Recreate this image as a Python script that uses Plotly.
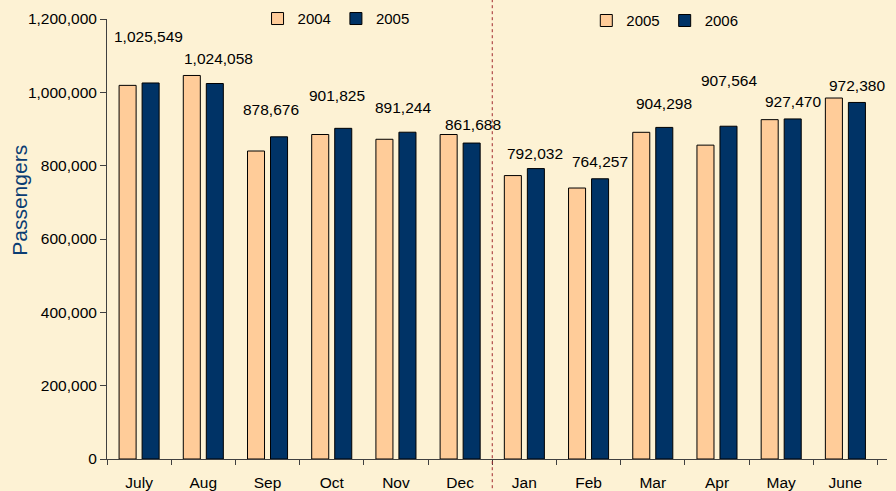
import plotly.graph_objects as go

months = ["July", "Aug", "Sep", "Oct", "Nov", "Dec", "Jan", "Feb", "Mar", "Apr", "May", "June"]
left_months = months[:6]
right_months = months[6:]

# First half (July-Dec): 2004 vs 2005
left_prev = [1019000, 1046000, 840000, 885000, 872000, 885000]
left_curr = [1025549, 1024058, 878676, 901825, 891244, 861688]
# Second half (Jan-June): 2005 vs 2006
right_prev = [773000, 739000, 891000, 856000, 925500, 984500]
right_curr = [792032, 764257, 904298, 907564, 927470, 972380]

y_ticks = [0, 200000, 400000, 600000, 800000, 1000000, 1200000]

# label placement (pixels), style only
label_dy = [46, 25, 27, 33, 25, 19, 15.5, 17, 23.5, 45.5, 17, 16.5]
label_dx = [-2, 4, -8.5, -6, -5, 1, -1, 0, 0, 0, 0, 0]

PEACH = "#FFCC99"
NAVY = "#003366"
BG = "#FDF2D4"
FONT = "Liberation Sans, Arial, sans-serif"

fig = go.Figure()
line = dict(color="#000000", width=1)
fig.add_trace(go.Bar(x=left_months, y=left_prev, name="2004", marker=dict(color=PEACH, line=line),
                     offsetgroup="a", legend="legend"))
fig.add_trace(go.Bar(x=left_months, y=left_curr, name="2005", marker=dict(color=NAVY, line=line),
                     offsetgroup="b", legend="legend"))
fig.add_trace(go.Bar(x=right_months, y=right_prev, name="2005", marker=dict(color=PEACH, line=line),
                     offsetgroup="a", legend="legend2"))
fig.add_trace(go.Bar(x=right_months, y=right_curr, name="2006", marker=dict(color=NAVY, line=line),
                     offsetgroup="b", legend="legend2"))

all_curr = left_curr + right_curr
for i, (m, v) in enumerate(zip(months, all_curr)):
    fig.add_annotation(x=m, y=v, text=f"{v:,}", showarrow=False, xshift=11.6 + label_dx[i],
                       yshift=label_dy[i], yanchor="middle", xanchor="center",
                       font=dict(family=FONT, size=15.5, color="#000000"))

fig.add_shape(type="line", xref="x", yref="paper", x0=5.5, x1=5.5, y0=-0.08, y1=1.05,
              line=dict(color="#A0282D", width=1, dash="dot"))

fig.add_annotation(xref="paper", yref="paper", x=-0.1115, y=0.587, text="Passengers", textangle=-90,
                   showarrow=False, xanchor="center", yanchor="middle",
                   font=dict(family=FONT, size=21, color="#0B3D73"))

fig.update_layout(
    width=896, height=491,
    margin=dict(l=107, r=9, t=19, b=32, autoexpand=False),
    paper_bgcolor=BG, plot_bgcolor=BG,
    barmode="group", bargap=0.283, bargroupgap=0.26,
    font=dict(family=FONT, size=15, color="#000000"),
    legend=dict(orientation="h", x=0.193, xanchor="left", y=1.0005, yanchor="middle",
                bgcolor="rgba(0,0,0,0)", font=dict(size=15), itemwidth=30, tracegroupgap=0),
    legend2=dict(orientation="h", x=0.6145, xanchor="left", y=0.996, yanchor="middle",
                 bgcolor="rgba(0,0,0,0)", font=dict(size=15), itemwidth=30),
    xaxis=dict(type="category", categoryorder="array", categoryarray=months,
               showline=True, linecolor="#404040", linewidth=1,
               ticks="outside", tickson="boundaries", ticklen=5, tickcolor="#404040",
               ticklabelstandoff=9,
               showgrid=False, tickfont=dict(size=15.5)),
    yaxis=dict(range=[0, 1200000], tickvals=y_ticks, tickformat=",", showline=True,
               linecolor="#404040", linewidth=1, ticks="outside", ticklen=6, tickcolor="#404040",
               showgrid=False, zeroline=False, tickfont=dict(size=15.5)),
)

fig.write_html("out.html", config={"displayModeBar": False},
               post_script="document.body.style.margin='0';document.body.style.background='" + BG + "';")
